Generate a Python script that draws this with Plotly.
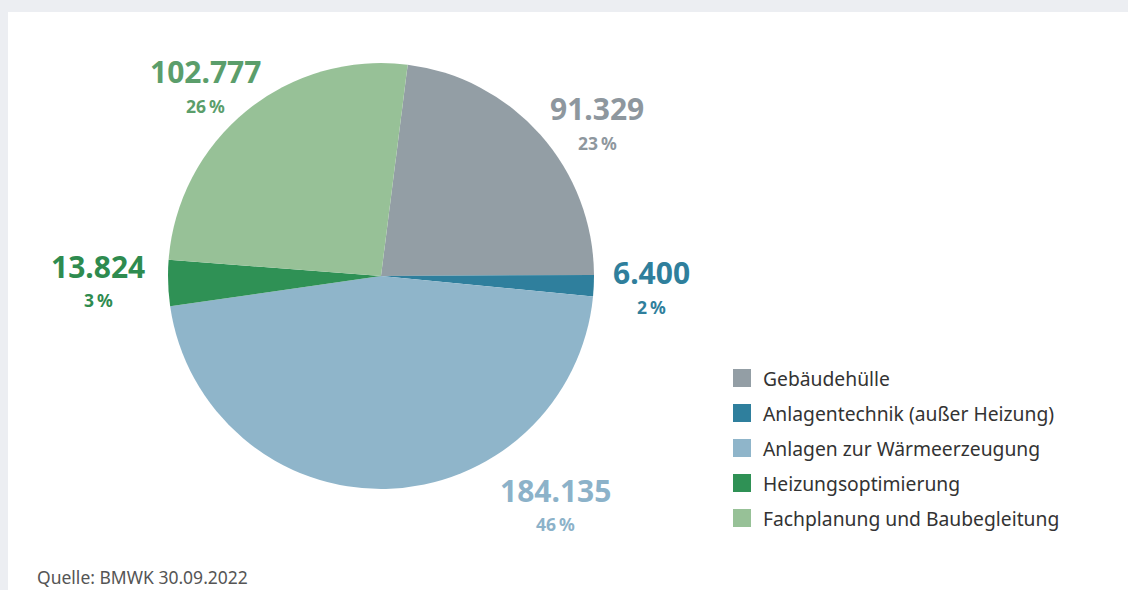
import plotly.graph_objects as go

labels = ["Gebäudehülle", "Anlagentechnik (außer Heizung)", "Anlagen zur Wärmeerzeugung",
          "Heizungsoptimierung", "Fachplanung und Baubegleitung"]
values = [91329, 6400, 184135, 13824, 102777]
slice_colors = ["#939ea5", "#2f7f9d", "#8fb5ca", "#2f9155", "#97c197"]
label_colors = ["#8e979e", "#2f7f9c", "#8cb2c9", "#2e8b4f", "#5b9e6b"]
# label anchor positions (pixel, top-left origin) for value text
label_pos = [(597, 109), (651, 273), (555, 490), (98, 266), (205, 72)]
source_text = "Quelle: BMWK 30.09.2022"

W, H = 1128, 590
total = sum(values)

def fmt(v):
    return f"{v:,}".replace(",", ".")

fig = go.Figure()
fig.add_trace(go.Pie(
    labels=labels, values=values, sort=False, direction="clockwise", rotation=7.2,
    marker=dict(colors=slice_colors, line=dict(width=0)),
    textinfo="none", hoverinfo="label+value+percent", showlegend=False,
    domain=dict(x=[168 / W, 594 / W], y=[1 - 489 / H, 1 - 63 / H]),
))

shapes = [dict(type="rect", xref="paper", yref="paper", x0=8 / W, x1=1, y0=0, y1=1 - 12 / H,
               fillcolor="white", line=dict(width=0), layer="below")]
annotations = []
for v, c, (px, py) in zip(values, label_colors, label_pos):
    pct = round(v / total * 100)
    annotations.append(dict(x=px / W, y=1 - py / H, xref="paper", yref="paper", text=f"<b>{fmt(v)}</b>",
                            showarrow=False, font=dict(size=30, color=c, family="Noto Sans"),
                            xanchor="center", yanchor="middle"))
    annotations.append(dict(x=px / W, y=1 - (py + 34) / H, xref="paper", yref="paper",
                            text=f"<b>{pct}\u2009%</b>", showarrow=False,
                            font=dict(size=17.5, color=c, family="Noto Sans"),
                            xanchor="center", yanchor="middle"))

# legend
for i, (lab, c) in enumerate(zip(labels, slice_colors)):
    cy = 378 + i * 35
    shapes.append(dict(type="rect", xref="paper", yref="paper", x0=733 / W, x1=751 / W,
                       y0=1 - (cy + 9) / H, y1=1 - (cy - 9) / H, fillcolor=c, line=dict(width=0)))
    annotations.append(dict(x=761 / W, y=1 - cy / H, xref="paper", yref="paper", text=lab,
                            showarrow=False, xanchor="left", yanchor="middle",
                            font=dict(size=19.3, color="#333333", family="Noto Sans")))

annotations.append(dict(x=35 / W, y=1 - 577 / H, xref="paper", yref="paper", text=source_text,
                        showarrow=False, xanchor="left", yanchor="middle",
                        font=dict(size=17.5, color="#555555", family="Noto Sans")))

fig.update_layout(width=W, height=H, margin=dict(l=0, r=0, t=0, b=0),
                  paper_bgcolor="#eceef2", plot_bgcolor="white",
                  shapes=shapes, annotations=annotations)
fig.write_html("out.html", config={"displayModeBar": False},
               post_script="document.body.style.margin='0';document.body.style.overflow='hidden';")
